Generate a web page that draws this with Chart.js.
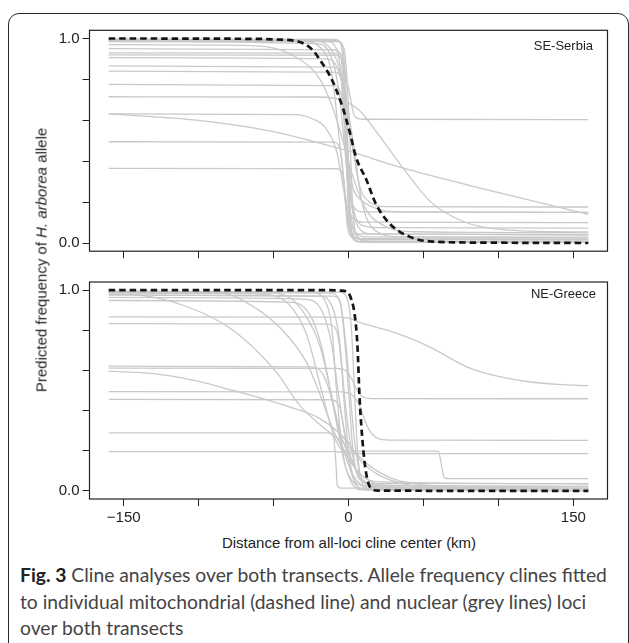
<!DOCTYPE html>
<html>
<head>
<meta charset="utf-8">
<script src="https://cdn.jsdelivr.net/npm/chart.js@4.4.0/dist/chart.umd.min.js"></script>
<style>
  body { margin: 0; background: #fff; width: 629px; height: 643px; overflow: hidden; position: relative; font-family: "Liberation Sans", Arial, sans-serif; color: #222; }
  .frame { position: absolute; left: 8px; top: 13px; width: 621px; height: 700px; box-sizing: border-box; border: 1.6px solid #2a2a2a; border-radius: 11px; }
  canvas { position: absolute; left: 0; }
  #serbia { top: 0; }
  #greece { top: 270px; }
  .panel-label { position: absolute; font-size: 13px; white-space: nowrap; }
  .ytitle { position: absolute; left: 41px; top: 260px; transform: translate(-50%, -50%) rotate(-90deg); font-size: 15px; white-space: nowrap; }
  .xtitle { position: absolute; left: 349px; top: 542px; transform: translate(-50%, -50%); font-size: 15px; white-space: nowrap; }
  .caption { position: absolute; left: 20px; top: 562px; font-family: Lato, "Open Sans", sans-serif; font-size: 19.3px; line-height: 26.7px; color: #444; white-space: nowrap; }
  .caption b { color: #222; }
</style>
</head>
<body>
<div class="frame"></div>
<canvas id="serbia" width="629" height="270"></canvas>
<canvas id="greece" width="629" height="262"></canvas>
<div class="panel-label" style="right: 36px; top: 38px;">SE-Serbia</div>
<div class="panel-label" style="right: 33px; top: 286px;">NE-Greece</div>
<div class="ytitle">Predicted frequency of <i>H. arborea</i> allele</div>
<div class="xtitle">Distance from all-loci cline center (km)</div>
<div class="caption"><b>Fig. 3</b> Cline analyses over both transects. Allele frequency clines fitted<br>to individual mitochondrial (dashed line) and nuclear (grey lines) loci<br>over both transects</div>

<script>
// axis ticks
const xTicks = [-150, -100, -50, 0, 50, 100, 150];
const xTickLabels = ['\u2212150', '', '', '0', '', '', '150'];
const yTicks = [0, 0.2, 0.4, 0.6, 0.8, 1.0];
const yTickLabels = ['0.0', '', '', '', '', '1.0'];

// SE-Serbia: mitochondrial cline (dashed), [km, frequency]
const serbiaMito = [[-160, 1.0], [-60, 0.998], [-48, 0.995], [-33, 0.984], [-24, 0.944], [-19, 0.895], [-11, 0.797], [-4, 0.665], [1, 0.537], [5, 0.42], [12, 0.308], [18, 0.195], [27, 0.098], [41, 0.03], [56, 0.007], [90, 0.002], [160, 0.0]];

// SE-Serbia: nuclear clines (grey)
const serbiaNuclear = [
  [[-160, 0.998], [-9, 0.995], [-5, 0.97], [-3, 0.8], [-1.5, 0.5], [0, 0.15], [2, 0.03], [8, 0.005], [160, 0.003]],
  [[-160, 0.995], [-8, 0.99], [-4, 0.96], [-2, 0.8], [-0.5, 0.5], [1, 0.15], [3, 0.04], [9, 0.018], [160, 0.016]],
  [[-160, 0.99], [-14, 0.985], [-8, 0.95], [-4, 0.75], [-2, 0.5], [0, 0.25], [4, 0.06], [12, 0.03], [160, 0.028]],
  [[-160, 0.985], [-22, 0.975], [-12, 0.92], [-6, 0.72], [-3, 0.5], [0, 0.28], [5, 0.1], [15, 0.045], [160, 0.04]],
  [[-160, 0.97], [-80, 0.968], [-55, 0.96], [-33, 0.9], [-19, 0.8], [-10, 0.65], [-3, 0.48], [4, 0.3], [12, 0.16], [25, 0.08], [45, 0.055], [160, 0.05]],
  [[-160, 0.93], [-8, 0.928], [-4, 0.91], [-1.5, 0.8], [0, 0.76], [1.5, 0.7], [4, 0.62], [10, 0.605], [160, 0.603]],
  [[-160, 0.92], [-9, 0.918], [-4, 0.89], [-2, 0.7], [-1, 0.5], [0.5, 0.3], [3, 0.18], [10, 0.152], [160, 0.15]],
  [[-160, 0.906], [-14, 0.9], [-7, 0.85], [-2, 0.7], [2, 0.5], [7, 0.29], [14, 0.2], [25, 0.178], [160, 0.176]],
  [[-160, 0.866], [-10, 0.86], [-5, 0.82], [-2, 0.62], [0, 0.4], [3, 0.27], [7, 0.22], [18, 0.17], [34, 0.152], [160, 0.15]],
  [[-160, 0.84], [-9, 0.835], [-5, 0.8], [-3, 0.6], [-1.5, 0.4], [0, 0.2], [3, 0.12], [10, 0.102], [160, 0.1]],
  [[-160, 0.776], [-10, 0.77], [-5, 0.73], [-2, 0.55], [0, 0.38], [3, 0.18], [8, 0.09], [20, 0.075], [160, 0.073]],
  [[-160, 0.715], [-20, 0.714], [-5, 0.7], [7, 0.65], [20, 0.53], [36, 0.37], [55, 0.2], [75, 0.11], [92, 0.075], [120, 0.058], [160, 0.054]],
  [[-160, 0.631], [-35, 0.628], [-25, 0.61], [-15, 0.56], [-8, 0.45], [-3, 0.25], [0, 0.1], [4, 0.03], [12, 0.016], [160, 0.016]],
  [[-160, 0.631], [-100, 0.6], [-50, 0.545], [-20, 0.49], [0, 0.45], [36, 0.367], [96, 0.254], [160, 0.14]],
  [[-160, 0.495], [-10, 0.493], [-6, 0.47], [-3, 0.3], [-1, 0.1], [2, 0.03], [8, 0.021], [160, 0.02]],
  [[-160, 0.365], [-8, 0.363], [-4, 0.34], [-2, 0.2], [0, 0.08], [4, 0.045], [160, 0.04]],
  [[-160, 0.99], [-7, 0.985], [-3, 0.95], [-1, 0.8], [1, 0.5], [3, 0.15], [6, 0.03], [12, 0.005], [160, 0.003]],
  [[-160, 0.99], [-30, 0.985], [-18, 0.95], [-11, 0.82], [-6, 0.5], [-1, 0.18], [5, 0.04], [15, 0.008], [160, 0.003]],
  [[-160, 0.995], [-25, 0.99], [-12, 0.95], [-4, 0.8], [3, 0.5], [9, 0.2], [18, 0.06], [35, 0.03], [160, 0.028]],
  [[-160, 0.95], [-9, 0.945], [-5, 0.91], [-3, 0.7], [-1, 0.45], [1, 0.12], [4, 0.02], [10, 0.005], [160, 0.004]]
];

// NE-Greece: mitochondrial cline (dashed)
const greeceMito = [[-160, 1.0], [-20, 1.0], [-5, 0.997], [0, 0.985], [2, 0.95], [4, 0.884], [6, 0.72], [7.3, 0.477], [9.5, 0.234], [11.8, 0.087], [15, 0.013], [20, 0.002], [160, 0.0]];

// NE-Greece: nuclear clines (grey)
const greeceNuclear = [
  [[-160, 0.995], [-6, 0.99], [-1, 0.96], [2, 0.8], [4, 0.5], [6, 0.2], [9, 0.04], [15, 0.005], [160, 0.002]],
  [[-160, 0.99], [-12, 0.985], [-6, 0.95], [-2, 0.75], [1, 0.5], [4, 0.25], [9, 0.06], [20, 0.016], [160, 0.013]],
  [[-160, 0.976], [-20, 0.97], [-11, 0.92], [-6, 0.75], [-3, 0.5], [1, 0.25], [7, 0.07], [20, 0.02], [160, 0.013]],
  [[-160, 0.963], [-30, 0.955], [-18, 0.9], [-11, 0.72], [-7, 0.5], [-2, 0.27], [6, 0.09], [20, 0.03], [160, 0.023]],
  [[-160, 0.948], [-40, 0.94], [-26, 0.88], [-18, 0.72], [-12, 0.5], [-5, 0.28], [5, 0.11], [22, 0.045], [160, 0.036]],
  [[-160, 0.98], [-140, 0.975], [-108, 0.918], [-77, 0.8], [-48, 0.59], [-33, 0.43], [-19, 0.33], [0, 0.22], [15, 0.12], [30, 0.06], [50, 0.03], [90, 0.015], [160, 0.013]],
  [[-160, 0.99], [-85, 0.985], [-64, 0.92], [-44, 0.8], [-28, 0.64], [-19, 0.48], [-10, 0.3], [0, 0.16], [10, 0.07], [25, 0.025], [50, 0.014], [160, 0.013]],
  [[-160, 0.866], [-10, 0.865], [0, 0.86], [7, 0.84], [30, 0.79], [52, 0.725], [81, 0.611], [100, 0.57], [118, 0.546], [140, 0.53], [160, 0.524]],
  [[-160, 0.833], [-14, 0.83], [-8, 0.8], [-5, 0.65], [-3, 0.45], [0, 0.2], [4, 0.05], [10, 0.01], [160, 0.004]],
  [[-160, 0.621], [-25, 0.618], [-17, 0.58], [-11, 0.45], [-7, 0.3], [-2, 0.12], [5, 0.03], [15, 0.005], [160, 0.003]],
  [[-160, 0.611], [-8, 0.61], [-2, 0.6], [2, 0.56], [5, 0.51], [9, 0.47], [15, 0.46], [160, 0.459]],
  [[-160, 0.596], [-140, 0.59], [-121, 0.575], [-100, 0.545], [-77, 0.5], [-55, 0.455], [-40, 0.42], [-19, 0.36], [0, 0.24], [7, 0.16], [20, 0.08], [40, 0.03], [60, 0.016], [160, 0.013]],
  [[-160, 0.494], [-5, 0.493], [2, 0.48], [7, 0.43], [11, 0.35], [15, 0.29], [21, 0.258], [30, 0.253], [160, 0.252]],
  [[-160, 0.456], [-12, 0.454], [-6, 0.42], [-3, 0.3], [0, 0.15], [4, 0.05], [12, 0.026], [160, 0.023]],
  [[-160, 0.289], [-14, 0.289], [-10, 0.27], [-8.5, 0.15], [-7.5, 0.03], [-5, 0.014], [160, 0.013]],
  [[-160, 0.196], [-10, 0.196], [0, 0.19], [10, 0.186], [160, 0.186]],
  [[-160, 0.985], [-60, 0.98], [-40, 0.93], [-28, 0.78], [-18, 0.5], [-10, 0.28], [-4, 0.205], [5, 0.198], [60, 0.198], [62, 0.13], [64, 0.065], [68, 0.061], [160, 0.061]],
  [[-160, 0.99], [-50, 0.985], [-37, 0.95], [-26, 0.84], [-19, 0.72], [-12, 0.5], [-5, 0.25], [3, 0.08], [15, 0.01], [160, 0.002]],
  [[-160, 0.995], [-25, 0.99], [-16, 0.95], [-11, 0.8], [-8, 0.5], [-4, 0.2], [2, 0.04], [10, 0.005], [160, 0.002]],
  [[-160, 0.976], [-10, 0.97], [-5, 0.92], [-2, 0.7], [0, 0.5], [3, 0.2], [7, 0.06], [15, 0.038], [160, 0.036]]
];

const tickFont = { family: '"Liberation Sans", Arial, sans-serif', size: 15 };

// draws the closed frame round the plot region
const boxPlugin = {
  id: 'box',
  afterDraw(chart) {
    const a = chart.chartArea;
    const ctx = chart.ctx;
    ctx.save();
    ctx.strokeStyle = '#222';
    ctx.lineWidth = 1.2;
    ctx.strokeRect(a.left, a.top, a.right - a.left, a.bottom - a.top);
    ctx.restore();
  }
};

function buildDatasets(mito, nuclear) {
  const sets = [{
    data: mito,
    borderColor: '#151515',
    borderWidth: 2.7,
    borderDash: [6.5, 4],
    pointRadius: 0,
    cubicInterpolationMode: 'monotone'
  }];
  nuclear.forEach(line => {
    sets.push({
      data: line,
      borderColor: '#c9c9c9',
      borderWidth: 1.3,
      pointRadius: 0,
      cubicInterpolationMode: 'monotone'
    });
  });
  return sets;
}

function makeChart(id, mito, nuclear, padTop, xHeight, showXLabels) {
  new Chart(document.getElementById(id), {
    type: 'line',
    data: { datasets: buildDatasets(mito, nuclear) },
    options: {
      responsive: false,
      animation: false,
      events: [],
      layout: { padding: { top: padTop, right: 21.5, left: 0, bottom: 0 } },
      plugins: { legend: { display: false }, tooltip: { enabled: false } },
      scales: {
        x: {
          type: 'linear',
          min: -172.8,
          max: 172.8,
          afterBuildTicks: s => { s.ticks = xTicks.map(v => ({ value: v })); },
          afterFit: s => { s.height = xHeight; },
          border: { display: false },
          grid: { drawOnChartArea: false, tickLength: 7, color: '#222' },
          ticks: {
            autoSkip: false, maxRotation: 0, padding: 3, color: '#222', font: tickFont,
            callback: (v, i) => showXLabels ? xTickLabels[i] : ''
          }
        },
        y: {
          min: -0.04,
          max: 1.04,
          afterBuildTicks: s => { s.ticks = yTicks.map(v => ({ value: v })); },
          afterFit: s => { s.width = 89.5; },
          border: { display: false },
          grid: { drawOnChartArea: false, tickLength: 7, color: '#222' },
          ticks: {
            autoSkip: false, padding: 3, color: '#222', font: tickFont,
            callback: (v, i) => yTickLabels[i]
          }
        }
      }
    },
    plugins: [boxPlugin]
  });
}

makeChart('serbia', serbiaMito, serbiaNuclear, 30.3, 18.8, false);
makeChart('greece', greeceMito, greeceNuclear, 8.5, 33, true);
</script>
</body>
</html>
